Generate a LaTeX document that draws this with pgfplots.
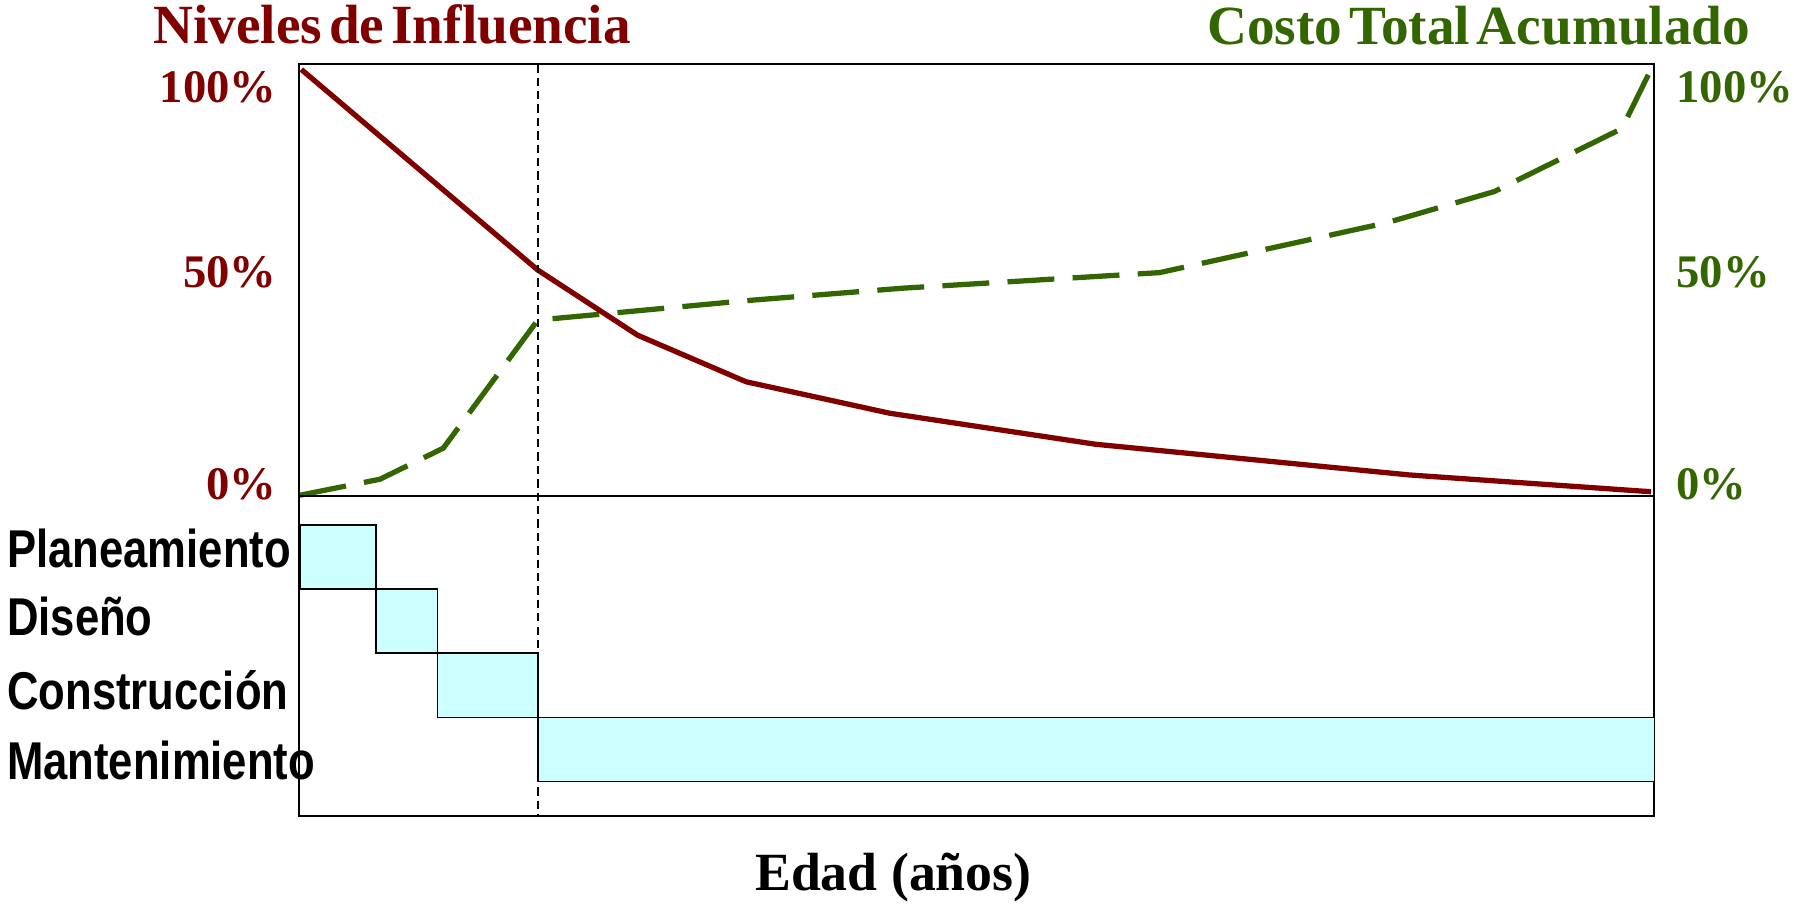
\documentclass[border=0pt]{standalone}
\usepackage{pgfplots}
\pgfplotsset{compat=1.18}
\usepackage{fontspec}
\setmainfont{Liberation Serif}
\newfontfamily\serifb[WordSpace=0.5]{Liberation Serif}
\newfontfamily\sansn[FakeStretch=0.82]{Liberation Sans}
\definecolor{infl}{HTML}{800000}
\definecolor{costo}{HTML}{336600}
\definecolor{barcyan}{HTML}{CCFFFF}

\begin{document}
\begin{tikzpicture}
\path[use as bounding box] (0,0) rectangle (784pt,395pt);
% ---------- upper panel, left scale ----------
\begin{axis}[
  at={(130.5pt,178.4pt)}, anchor=south west,
  width=592.5pt, height=188.5pt, scale only axis,
  xmin=0, xmax=100, ymin=0, ymax=100,
  xtick=\empty,
  ytick={2.65,51.7,94.6},
  yticklabels={0\%,50\%,100\%},
  major tick length=0pt,
  yticklabel style={anchor=east, inner sep=0pt, xshift=-9.5pt, text=infl,
    font=\serifb\bfseries\fontsize{20.4pt}{24pt}\selectfont},
  axis line style={line width=0.9pt},
  clip=false,
]
\addplot[costo, line width=2.3pt, dash pattern=on 20.5pt off 8pt] coordinates {
  (0.1,0.1) (6.0,3.8) (10.67,11.0) (17.64,40.7) (33.0,45.2) (44.6,48.1)
  (58.8,50.8) (63.5,51.7) (80.3,63.3) (88.2,70.5) (97.6,85.1) (99.9,99.8)};
\addplot[infl, line width=2.3pt] coordinates {
  (0.2,98.8) (17.64,52.3) (25.0,37.2) (33.0,26.4) (43.6,19.1)
  (58.8,11.9) (81.9,4.8) (99.75,0.9)};
\coordinate (vtop) at (axis cs:17.64,100);
\end{axis}
% ---------- upper panel, right scale ----------
\begin{axis}[
  at={(130.5pt,178.4pt)}, anchor=south west,
  width=592.5pt, height=188.5pt, scale only axis,
  xmin=0, xmax=100, ymin=0, ymax=100,
  axis x line=none, axis y line*=right,
  y axis line style={draw=none},
  ytick={2.65,51.7,94.6},
  yticklabels={0\%,50\%,100\%},
  major tick length=0pt,
  yticklabel style={anchor=west, inner sep=0pt, xshift=9.45pt, text=costo,
    font=\serifb\bfseries\fontsize{20.4pt}{24pt}\selectfont},
]
\end{axis}
% ---------- lower panel: phases ----------
\begin{axis}[
  at={(130.5pt,38.5pt)}, anchor=south west,
  width=592.5pt, height=139.9pt, scale only axis,
  xmin=0, xmax=100, ymin=0, ymax=280,
  xtick=\empty,
  ytick={48,110,174,234},
  yticklabels={Mantenimiento,Construcción,Diseño,Planeamiento},
  major tick length=0pt,
  yticklabel style={anchor=west, inner sep=0pt, xshift=-127.55pt,
    font=\sansn\bfseries\fontsize{23.25pt}{27pt}\selectfont},
  axis line style={line width=0.9pt},
]
\addplot[fill=barcyan, draw=black, line width=0.8pt] coordinates {(0.1,198) (5.70,198) (5.70,254) (0.1,254)} -- cycle;
\addplot[fill=barcyan, draw=black, line width=0.8pt] coordinates {(5.70,142) (10.24,142) (10.24,198) (5.70,198)} -- cycle;
\addplot[fill=barcyan, draw=black, line width=0.8pt] coordinates {(10.24,86) (17.65,86) (17.65,142) (10.24,142)} -- cycle;
\addplot[fill=barcyan, draw=black, line width=0.8pt] coordinates {(17.65,30) (100,30) (100,86) (17.65,86)} -- cycle;
\coordinate (vbot) at (axis cs:17.64,0);
\end{axis}
\draw[line width=0.7pt, dash pattern=on 3.65pt off 2.2pt] (vtop) -- (vbot);
% ---------- titles ----------
\node[anchor=base, inner sep=0pt, text=infl,
  font=\serifb\bfseries\fontsize{24.15pt}{28pt}\selectfont] at (171.4pt,376.05pt) {Niveles de Influencia};
\node[anchor=base, inner sep=0pt, text=costo,
  font=\serifb\bfseries\fontsize{24.15pt}{28pt}\selectfont] at (646.25pt,375.35pt) {Costo Total Acumulado};
\node[anchor=base, inner sep=0pt,
  font=\serifb\bfseries\fontsize{23.5pt}{28pt}\selectfont] at (390.4pt,6.05pt) {Edad\hspace{0.25em}(años)};
\end{tikzpicture}
\end{document}
